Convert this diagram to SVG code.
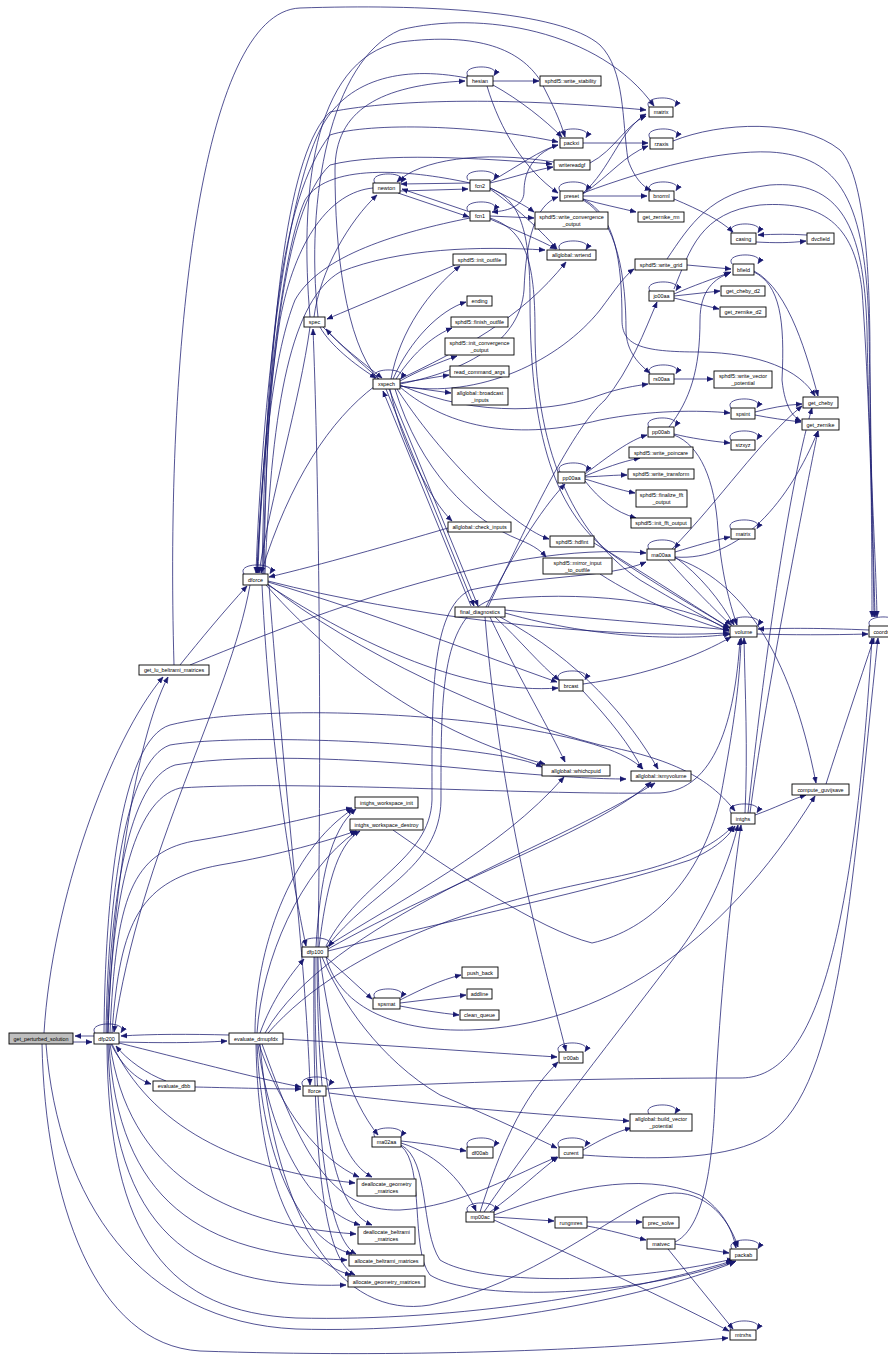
<svg xmlns="http://www.w3.org/2000/svg" width="888" height="1355" viewBox="0 0 888 1355">
<defs>
<marker id="a" markerWidth="7" markerHeight="6" refX="6" refY="3" orient="auto" markerUnits="userSpaceOnUse"><path d="M0,0.6 L6,3 L0,5.4 z" fill="#191970" stroke="#191970" stroke-width="0.5"/></marker>
</defs>
<style>
.node rect{fill:#fff;stroke:#000;stroke-width:0.9}
.node text{font-family:"Liberation Sans",Arial,sans-serif;font-size:5.4px;fill:#000;text-anchor:middle}
#edges path{fill:none;stroke:#191970;stroke-width:0.75;marker-end:url(#a)}
</style>
<rect width="888" height="1355" fill="#fff"/>
<g id="edges">
<!-- self loops -->
<path d="M468,76 C460,64 502,64 494,75.5"/>
<path d="M560,138 C552,126 594,126 586,137.5"/>
<path d="M649,107 C641,95 683,95 675,106.5"/>
<path d="M650,138 C642,126 684,126 676,137.5"/>
<path d="M375,183 C367,171 409,171 401,182.5"/>
<path d="M468,180 C460,168 502,168 494,179.5"/>
<path d="M560,191 C552,179 594,179 586,190.5"/>
<path d="M468,211 C460,199 502,199 494,210.5"/>
<path d="M650,191 C642,179 684,179 676,190.5"/>
<path d="M732,233 C724,221 766,221 758,232.5"/>
<path d="M560,250 C552,238 594,238 586,249.5"/>
<path d="M732,264 C724,252 766,252 758,263.5"/>
<path d="M650,291 C642,279 684,279 676,290.5"/>
<path d="M650,374 C642,362 684,362 676,373.5"/>
<path d="M731,408 C723,396 765,396 757,407.5"/>
<path d="M649,427 C641,415 683,415 675,426.5"/>
<path d="M731,440 C723,428 765,428 757,439.5"/>
<path d="M560,472 C552,460 594,460 586,471.5"/>
<path d="M731,529 C723,517 765,517 757,528.5"/>
<path d="M649,549 C641,537 683,537 675,548.5"/>
<path d="M732,626 C724,614 766,614 758,625.5"/>
<path d="M870,626 C862,614 904,614 896,625.5"/>
<path d="M244,574 C236,562 278,562 270,573.5"/>
<path d="M375,379 C367,367 409,367 401,378.5"/>
<path d="M559,680 C551,668 593,668 585,679.5"/>
<path d="M731,813 C723,801 765,801 757,812.5"/>
<path d="M303,947 C295,935 337,935 329,946.5"/>
<path d="M375,998 C367,986 409,986 401,997.5"/>
<path d="M95,1033 C87,1021 129,1021 121,1032.5"/>
<path d="M303,1086 C295,1074 337,1074 329,1085.5"/>
<path d="M559,1052 C551,1040 593,1040 585,1051.5"/>
<path d="M375,1137 C367,1125 409,1125 401,1136.5"/>
<path d="M468,1147 C460,1135 502,1135 494,1146.5"/>
<path d="M559,1147 C551,1135 593,1135 585,1146.5"/>
<path d="M468,1212 C460,1200 502,1200 494,1211.5"/>
<path d="M649,1114 C641,1102 683,1102 675,1113.5"/>
<path d="M732,1249 C724,1237 766,1237 758,1248.5"/>
<path d="M731,1330 C723,1318 765,1318 757,1329.5"/>
<!-- left bottom -->
<path d="M73,1042 L92,1042"/>
<path d="M94,1036 L75,1036"/>
<path d="M229,1035 C190,1034 150,1034 121,1036"/>
<path d="M119,1042 C160,1043 195,1043 227,1041"/>
<path d="M111,1044 C122,1066 136,1079 151,1084"/>
<path d="M166,1081 C147,1074 127,1060 116,1046"/>
<path d="M195,1087 C240,1088 275,1089 301,1089"/>
<path d="M119,1043 C180,1058 255,1078 301,1087"/>
<path d="M44,1033 C52,900 110,740 163,677"/>
<path d="M108,1033 C112,900 135,740 168,677"/>
<path d="M42,1044 C45,1200 95,1345 200,1351 C400,1358 600,1350 728,1338"/>
<path d="M46,1044 C58,1200 140,1322 296,1329 C460,1334 640,1300 735,1262"/>
<path d="M107,1044 C108,1240 170,1312 296,1318 C460,1322 630,1292 732,1261"/>
<path d="M112,1044 C150,1125 235,1170 355,1183"/>
<path d="M110,1044 C128,1170 220,1225 356,1234"/>
<path d="M109,1044 C118,1200 200,1255 347,1260"/>
<path d="M108,1044 C112,1230 190,1290 346,1285"/>
<!-- evaluate_dmupfdx -->
<path d="M283,1039 C380,1045 480,1052 557,1057"/>
<path d="M259,1044 C280,1110 320,1160 359,1177"/>
<path d="M258,1044 C270,1140 310,1210 360,1225"/>
<path d="M257,1044 C262,1160 300,1240 352,1254"/>
<path d="M256,1044 C258,1180 295,1260 351,1275"/>
<path d="M262,1044 C300,1150 330,1212 400,1210 C460,1207 520,1172 557,1157"/>
<path d="M260,1044 C275,1220 340,1320 430,1305 C530,1285 610,1215 660,1195 C700,1185 728,1215 738,1247"/>
<path d="M255,1033 C255,950 290,850 353,809"/>
<path d="M257,1033 C262,960 300,870 357,831"/>
<path d="M260,1033 C272,1000 290,975 304,959"/>
<path d="M268,1033 C350,940 500,900 600,880 C680,865 715,845 733,826"/>
<path d="M265,1033 C330,920 550,850 655,783"/>
<!-- dfp200 upward -->
<path d="M110,1033 C116,900 130,850 200,840 C260,830 320,815 352,808"/>
<path d="M112,1033 C120,920 140,880 220,865 C280,855 330,840 356,831"/>
<path d="M104,1033 C105,900 120,740 170,725 C250,705 420,712 520,728 C590,740 625,752 643,769"/>
<path d="M106,1033 C108,900 125,760 170,745 C230,735 380,740 460,750 C510,756 530,761 542,767"/>
<path d="M107,1033 C110,900 128,780 175,765 C250,752 380,760 480,770 C560,777 600,779 626,779"/>
<path d="M108,1033 C112,900 132,800 180,788 C300,780 520,795 660,793 C715,790 735,720 740,639"/>
<!-- dforce -->
<path d="M250,585 C230,700 140,850 114,1032"/>
<path d="M262,585 C270,750 292,880 306,946"/>
<path d="M269,585 C285,800 305,950 310,1085"/>
<path d="M268,582 C380,615 480,655 557,682"/>
<path d="M268,585 C360,645 470,695 558,688"/>
<path d="M268,581 C400,615 600,640 729,633"/>
<path d="M266,585 C350,680 450,740 545,764"/>
<path d="M268,584 C350,650 500,720 600,745 C680,760 712,782 735,811"/>
<path d="M180,665 C200,640 225,610 247,586"/>
<path d="M190,665 C300,620 500,540 646,553"/>
<path d="M448,528 C390,545 320,565 269,577"/>
<path d="M467,78 C400,65 345,80 320,130 C285,200 262,400 256,573"/>
<path d="M373,188 C330,192 295,240 280,320 C268,400 260,500 257,573"/>
<path d="M470,183 C420,172 330,160 305,200 C278,260 263,450 257,573"/>
<path d="M470,218 C400,232 320,255 295,300 C275,350 262,450 258,573"/>
<path d="M310,327 C300,400 270,500 259,573"/>
<path d="M375,386 C330,420 290,480 261,573"/>
<path d="M262,574 C266,350 280,200 330,135 C370,122 480,125 558,142"/>
<path d="M263,574 C267,380 282,210 330,165 C380,152 480,158 552,164"/>
<path d="M264,574 C268,300 290,150 330,112 C400,98 520,98 646,110"/>
<path d="M265,574 C272,400 292,300 340,272 C400,248 480,246 545,250"/>
<!-- spec / xspech -->
<path d="M318,317 C305,200 330,60 400,30 C480,10 600,30 654,106"/>
<path d="M310,317 C300,200 310,60 400,42 C480,32 520,50 540,80 C553,105 560,120 565,137"/>
<path d="M314,317 C320,270 350,220 377,195"/>
<path d="M378,379 C345,340 335,250 335,170 C335,110 380,85 465,81"/>
<path d="M318,947 C322,700 318,450 313,329"/>
<path d="M455,265 C420,280 360,305 327,319"/>
<path d="M320,327 C330,345 355,365 376,378"/>
<path d="M323,327 C340,345 362,362 382,378"/>
<path d="M379,379 C360,362 340,345 326,329"/>
<path d="M174,665 C165,350 200,12 300,8 C420,4 560,10 600,45 C625,70 622,120 628,160 C635,180 645,188 651,190"/>
<path d="M391,379 C400,330 430,290 460,266"/>
<path d="M393,379 C410,340 440,310 466,302"/>
<path d="M396,379 C415,350 435,335 452,328"/>
<path d="M400,381 C420,370 440,362 457,356"/>
<path d="M400,383 L449,375"/>
<path d="M400,386 L451,393"/>
<path d="M398,380 C460,350 520,320 566,262"/>
<path d="M400,384 C470,370 520,340 524,290 C526,240 535,205 558,197"/>
<path d="M390,389 C400,440 430,500 452,521"/>
<path d="M386,389 L474,606"/>
<path d="M389,389 L478,606"/>
<path d="M471,606 L383,391"/>
<path d="M397,389 C450,470 520,530 549,539"/>
<path d="M395,389 C420,470 470,520 520,540 C535,546 542,552 546,557"/>
<path d="M400,385 C480,420 560,410 600,395 C620,388 635,386 648,384"/>
<path d="M400,387 C450,430 520,440 600,420 C650,410 700,410 730,413"/>
<path d="M400,386 C480,400 560,360 600,310 C615,290 625,275 634,269"/>
<!-- newton / fcn -->
<path d="M400,191 L468,189"/>
<path d="M470,183 L401,184"/>
<path d="M398,193 L469,217"/>
<path d="M470,212 L402,189"/>
<path d="M554,162 C480,150 420,160 397,182"/>
<path d="M490,183 C515,177 535,170 553,167"/>
<path d="M490,182 C520,165 540,150 558,145"/>
<path d="M558,145 C530,155 524,175 524,192 C524,205 510,211 492,212"/>
<path d="M490,188 C510,198 525,205 534,212"/>
<path d="M490,189 C520,210 545,235 557,249"/>
<path d="M490,216 L534,218"/>
<path d="M490,219 C515,230 540,240 556,249"/>
<path d="M490,188 C520,200 530,230 530,300 C530,450 560,520 620,560 C680,600 710,615 729,628"/>
<path d="M490,218 C525,230 535,260 535,330 C535,460 580,540 640,580 C690,610 715,622 729,631"/>
<!-- hesian -->
<path d="M493,81 L539,81"/>
<path d="M493,85 C520,100 545,120 562,137"/>
<path d="M487,86 C500,130 525,170 558,193"/>
<!-- preset etc -->
<path d="M583,196 L647,196"/>
<path d="M583,199 C600,204 620,208 636,212"/>
<path d="M583,193 C610,170 620,130 646,114"/>
<path d="M590,163 C615,150 625,125 646,116"/>
<path d="M583,194 C610,175 625,155 648,146"/>
<path d="M583,143 L648,143"/>
<path d="M583,193 C650,168 720,150 770,152 C840,156 866,200 869,330 C871,450 872,560 872,617"/>
<path d="M673,141 C720,122 800,118 840,150 C868,178 870,300 870,360 C871,480 874,570 875,617"/>
<path d="M667,259 C690,225 710,192 770,185 C840,180 864,225 867,330 C869,450 876,560 877,617"/>
<path d="M674,289 C690,250 700,212 760,205 C830,200 855,232 862,290 C870,400 873,550 874,617"/>
<path d="M583,199 C615,215 622,260 622,320 C622,345 640,352 700,352 C760,353 800,370 815,396"/>
<path d="M583,200 C618,220 626,280 626,330 C626,352 640,365 650,373"/>
<path d="M674,199 C700,210 720,220 733,232"/>
<path d="M756,242 C775,243 790,243 806,241"/>
<path d="M807,235 C790,234 775,234 758,235"/>
<path d="M674,294 C695,285 710,280 731,272"/>
<path d="M674,296 L720,291"/>
<path d="M674,298 L719,309"/>
<path d="M687,265 L731,269"/>
<path d="M754,271 C790,290 808,360 818,396"/>
<path d="M754,272 C780,285 785,320 782,380 C785,410 795,418 801,421"/>
<path d="M669,427 C690,400 700,370 700,320 C700,290 715,278 730,273"/>
<path d="M674,379 L713,379"/>
<path d="M674,434 C690,438 710,441 730,443"/>
<path d="M674,435 C700,445 715,480 718,530 C722,580 732,610 737,625"/>
<path d="M755,412 C770,408 785,405 802,404"/>
<path d="M755,415 C770,418 785,420 801,422"/>
<path d="M675,552 C695,546 715,540 730,537"/>
<path d="M672,549 C720,500 760,440 802,406"/>
<path d="M675,557 C740,562 790,500 818,431"/>
<path d="M675,557 C700,575 720,600 734,625"/>
<path d="M668,560 C690,585 715,610 731,625"/>
<path d="M675,558 C740,580 790,650 816,783"/>
<path d="M585,474 C610,455 630,440 647,435"/>
<path d="M585,476 C605,468 620,462 640,458"/>
<path d="M585,477 C605,476 615,475 627,475"/>
<path d="M585,479 C605,485 620,490 635,493"/>
<path d="M585,481 C600,500 615,512 636,518"/>
<!-- final diagnostics -->
<path d="M486,607 C510,560 540,510 565,484"/>
<path d="M488,607 C520,540 570,430 605,400 C630,370 645,330 657,302"/>
<path d="M505,610 C600,620 680,625 729,630"/>
<path d="M505,613 C600,640 690,640 730,634"/>
<path d="M495,617 C520,640 540,665 559,680"/>
<path d="M490,617 C520,680 550,730 565,762"/>
<path d="M500,617 C580,660 630,720 658,769"/>
<path d="M485,617 C500,800 540,950 566,1051"/>
<path d="M594,543 C640,570 700,610 730,628"/>
<path d="M600,574 C640,600 690,620 729,631"/>
<path d="M583,691 C610,720 630,745 642,769"/>
<path d="M583,684 C650,675 700,655 731,637"/>
<!-- volume / coords -->
<path d="M869,630 C820,628 790,628 758,629"/>
<path d="M757,634 C790,635 830,635 868,634"/>
<path d="M826,784 C840,740 860,680 874,638"/>
<path d="M326,1089 C450,1082 600,1078 740,1078 C800,1078 850,1000 872,638"/>
<path d="M583,1155 C650,1160 720,1160 760,1140 C840,1100 850,900 878,638"/>
<path d="M755,815 C775,808 790,800 806,795"/>
<path d="M745,813 C748,750 745,690 744,638"/>
<path d="M748,813 C760,700 785,500 812,408"/>
<path d="M750,813 C765,700 800,520 818,431"/>
<!-- dfp100 -->
<path d="M326,957 L372,999"/>
<path d="M316,947 C320,880 330,830 356,809"/>
<path d="M319,947 C326,890 336,845 360,831"/>
<path d="M326,947 C400,900 500,850 564,777"/>
<path d="M328,949 C450,880 600,830 651,782"/>
<path d="M328,951 C450,920 600,890 690,860 C712,850 726,840 735,826"/>
<path d="M326,946 C360,880 430,860 432,800 C432,700 430,610 470,590 C540,575 610,578 646,562"/>
<path d="M327,947 C370,890 440,870 441,800 C441,700 440,620 490,600 C580,590 680,600 729,630"/>
<path d="M326,957 C340,1010 400,1032 470,1030 C600,1025 720,950 815,796"/>
<path d="M320,957 C330,1040 350,1100 378,1135"/>
<path d="M322,957 C340,1000 380,1060 440,1095 C500,1120 540,1140 557,1148"/>
<path d="M318,957 C320,1100 340,1160 372,1177"/>
<path d="M317,957 C318,1130 335,1210 372,1225"/>
<path d="M315,957 C314,1150 330,1240 356,1254"/>
<path d="M314,957 C312,1170 325,1260 355,1275"/>
<path d="M393,830 C450,870 540,930 592,943 C650,930 700,880 720,800 C735,720 740,680 741,638"/>
<!-- spsmat -->
<path d="M400,1000 C420,990 440,980 461,975"/>
<path d="M400,1003 L466,995"/>
<path d="M400,1006 C420,1010 440,1013 459,1015"/>
<!-- ma02aa / mp00ac -->
<path d="M401,1141 C430,1144 445,1147 466,1151"/>
<path d="M401,1143 C440,1155 465,1185 476,1211"/>
<path d="M401,1145 C430,1160 420,1230 440,1260 C480,1285 620,1285 733,1259"/>
<path d="M401,1146 C425,1165 410,1250 430,1275 C470,1300 620,1300 736,1261"/>
<path d="M494,1217 L554,1221"/>
<path d="M480,1212 C500,1150 520,1100 558,1062"/>
<path d="M490,1212 C520,1190 540,1170 558,1157"/>
<path d="M494,1220 C560,1250 650,1290 729,1331"/>
<path d="M484,1212 C540,1130 620,1030 680,950 C710,910 730,860 738,825"/>
<path d="M494,1215 C560,1190 640,1170 700,1195 C722,1210 732,1228 736,1248"/>
<path d="M587,1222 L642,1222"/>
<path d="M587,1226 C610,1230 630,1236 646,1240"/>
<path d="M675,1244 L729,1253"/>
<path d="M668,1249 L733,1329"/>
<path d="M675,1242 C700,1230 712,1180 715,1100 C720,1000 730,900 741,825"/>
<path d="M583,1150 C600,1140 615,1132 631,1128"/>
<path d="M329,1093 C420,1105 550,1115 629,1121"/>
</g>
<g id="n_gps" class="node"><rect x="9" y="1033" width="64" height="11" style="fill:#bfbfbf"/><text x="41" y="1040.5">get_perturbed_solution</text></g>
<g id="n_dfp200" class="node"><rect x="94" y="1033" width="25" height="11"/><text x="106.5" y="1040.5">dfp200</text></g>
<g id="n_evdmu" class="node"><rect x="229" y="1033" width="54" height="11"/><text x="256" y="1040.5">evaluate_dmupfdx</text></g>
<g id="n_evdbb" class="node"><rect x="153" y="1081" width="42" height="10"/><text x="174" y="1088">evaluate_dbb</text></g>
<g id="n_getlu" class="node"><rect x="139" y="665" width="70" height="10"/><text x="174" y="672">get_lu_beltrami_matrices</text></g>
<g id="n_dforce" class="node"><rect x="243" y="574" width="25" height="11"/><text x="255.5" y="581.5">dforce</text></g>
<g id="n_spec" class="node"><rect x="304" y="317" width="21" height="10"/><text x="314.5" y="324">spec</text></g>
<g id="n_dfp100" class="node"><rect x="302" y="947" width="26" height="10"/><text x="315" y="954">dfp100</text></g>
<g id="n_lforce" class="node"><rect x="303" y="1086" width="23" height="10"/><text x="314.5" y="1093">lforce</text></g>
<g id="n_newton" class="node"><rect x="373" y="183" width="27" height="10"/><text x="386.5" y="190">newton</text></g>
<g id="n_xspech" class="node"><rect x="373" y="379" width="27" height="10"/><text x="386.5" y="386">xspech</text></g>
<g id="n_spsmat" class="node"><rect x="373" y="998" width="27" height="11"/><text x="386.5" y="1005.5">spsmat</text></g>
<g id="n_ma02aa" class="node"><rect x="372" y="1137" width="29" height="10"/><text x="386.5" y="1144">ma02aa</text></g>
<g id="n_iwi" class="node"><rect x="355" y="797" width="63" height="11"/><text x="386.5" y="804.5">intghs_workspace_init</text></g>
<g id="n_iwd" class="node"><rect x="350" y="819" width="73" height="11"/><text x="386.5" y="826.5">intghs_workspace_destroy</text></g>
<g id="n_dgm" class="node"><rect x="357" y="1179" width="59" height="17"/><text x="386.5" y="1186">deallocate_geometry</text><text x="386.5" y="1193">_matrices</text></g>
<g id="n_dbm" class="node"><rect x="358" y="1227" width="57" height="17"/><text x="386.5" y="1234">deallocate_beltrami</text><text x="386.5" y="1241">_matrices</text></g>
<g id="n_abm" class="node"><rect x="349" y="1255" width="75" height="11"/><text x="386.5" y="1262.5">allocate_beltrami_matrices</text></g>
<g id="n_agm" class="node"><rect x="348" y="1276" width="77" height="11"/><text x="386.5" y="1283.5">allocate_geometry_matrices</text></g>
<g id="n_hesian" class="node"><rect x="467" y="76" width="26" height="10"/><text x="480" y="83">hesian</text></g>
<g id="n_fcn2" class="node"><rect x="470" y="180" width="20" height="11"/><text x="480" y="187.5">fcn2</text></g>
<g id="n_fcn1" class="node"><rect x="470" y="211" width="20" height="10"/><text x="480" y="218">fcn1</text></g>
<g id="n_initout" class="node"><rect x="453" y="254" width="53" height="11"/><text x="479.5" y="261.5">sphdf5::init_outfile</text></g>
<g id="n_ending" class="node"><rect x="467" y="296" width="25" height="10"/><text x="479.5" y="303">ending</text></g>
<g id="n_finout" class="node"><rect x="451" y="317" width="57" height="10"/><text x="479.5" y="324">sphdf5::finish_outfile</text></g>
<g id="n_initconv" class="node"><rect x="445" y="338" width="69" height="17"/><text x="479.5" y="345">sphdf5::init_convergence</text><text x="479.5" y="352">_output</text></g>
<g id="n_rca" class="node"><rect x="450" y="366" width="59" height="11"/><text x="479.5" y="373.5">read_command_args</text></g>
<g id="n_bcast" class="node"><rect x="452" y="388" width="56" height="17"/><text x="480" y="395">allglobal::broadcast</text><text x="480" y="402">_inputs</text></g>
<g id="n_check" class="node"><rect x="448" y="522" width="63" height="10"/><text x="479.5" y="529">allglobal::check_inputs</text></g>
<g id="n_final" class="node"><rect x="455" y="607" width="50" height="10"/><text x="480" y="614">final_diagnostics</text></g>
<g id="n_pushback" class="node"><rect x="462" y="967" width="36" height="11"/><text x="480" y="974.5">push_back</text></g>
<g id="n_addline" class="node"><rect x="467" y="989" width="25" height="10"/><text x="479.5" y="996">addline</text></g>
<g id="n_cleanq" class="node"><rect x="460" y="1010" width="39" height="10"/><text x="479.5" y="1017">clean_queue</text></g>
<g id="n_df00ab" class="node"><rect x="467" y="1147" width="26" height="11"/><text x="480" y="1154.5">df00ab</text></g>
<g id="n_mp00ac" class="node"><rect x="466" y="1212" width="28" height="10"/><text x="480" y="1219">mp00ac</text></g>
<g id="n_wstab" class="node"><rect x="540" y="76" width="61" height="10"/><text x="570.5" y="83">sphdf5::write_stability</text></g>
<g id="n_packxi" class="node"><rect x="560" y="138" width="23" height="10"/><text x="571.5" y="145">packxi</text></g>
<g id="n_wrgf" class="node"><rect x="554" y="160" width="36" height="10"/><text x="572" y="167">writereadgf</text></g>
<g id="n_preset" class="node"><rect x="560" y="191" width="23" height="10"/><text x="571.5" y="198">preset</text></g>
<g id="n_wconv" class="node"><rect x="535" y="212" width="73" height="17"/><text x="571.5" y="219">sphdf5::write_convergence</text><text x="571.5" y="226">_output</text></g>
<g id="n_wrtend" class="node"><rect x="547" y="250" width="49" height="10"/><text x="571.5" y="257">allglobal::wrtend</text></g>
<g id="n_pp00aa" class="node"><rect x="558" y="472" width="27" height="11"/><text x="571.5" y="479.5">pp00aa</text></g>
<g id="n_hdfint" class="node"><rect x="550" y="536" width="44" height="11"/><text x="572" y="543.5">sphdf5::hdfint</text></g>
<g id="n_mirror" class="node"><rect x="543" y="558" width="69" height="16"/><text x="577.5" y="564.5">sphdf5::mirror_input</text><text x="577.5" y="571.5">_to_outfile</text></g>
<g id="n_brcast" class="node"><rect x="559" y="680" width="24" height="11"/><text x="571" y="687.5">brcast</text></g>
<g id="n_whichcpu" class="node"><rect x="542" y="765" width="68" height="11"/><text x="576" y="772.5">allglobal::whichcpuid</text></g>
<g id="n_tr00ab" class="node"><rect x="559" y="1052" width="24" height="11"/><text x="571" y="1059.5">tr00ab</text></g>
<g id="n_curent" class="node"><rect x="559" y="1147" width="24" height="11"/><text x="571" y="1154.5">curent</text></g>
<g id="n_rungmres" class="node"><rect x="555" y="1217" width="32" height="11"/><text x="571" y="1224.5">rungmres</text></g>
<g id="n_matrix" class="node"><rect x="649" y="107" width="24" height="10"/><text x="661" y="114">matrix</text></g>
<g id="n_rzaxis" class="node"><rect x="650" y="138" width="23" height="11"/><text x="661.5" y="145.5">rzaxis</text></g>
<g id="n_bnorml" class="node"><rect x="649" y="191" width="25" height="10"/><text x="661.5" y="198">bnorml</text></g>
<g id="n_gzrm" class="node"><rect x="638" y="212" width="46" height="10"/><text x="661" y="219">get_zernike_rm</text></g>
<g id="n_wgrid" class="node"><rect x="635" y="259" width="52" height="11"/><text x="661" y="266.5">sphdf5::write_grid</text></g>
<g id="n_jo00aa" class="node"><rect x="649" y="291" width="25" height="10"/><text x="661.5" y="298">jo00aa</text></g>
<g id="n_rs00aa" class="node"><rect x="649" y="374" width="25" height="10"/><text x="661.5" y="381">rs00aa</text></g>
<g id="n_pp00ab" class="node"><rect x="648" y="427" width="26" height="10"/><text x="661" y="434">pp00ab</text></g>
<g id="n_wpoinc" class="node"><rect x="629" y="447" width="64" height="11"/><text x="661" y="454.5">sphdf5::write_poincare</text></g>
<g id="n_wtrans" class="node"><rect x="628" y="469" width="66" height="10"/><text x="661" y="476">sphdf5::write_transform</text></g>
<g id="n_finfft" class="node"><rect x="636" y="490" width="51" height="17"/><text x="661.5" y="497">sphdf5::finalize_fft</text><text x="661.5" y="504">_output</text></g>
<g id="n_initfft" class="node"><rect x="631" y="518" width="60" height="10"/><text x="661" y="525">sphdf5::init_fft_output</text></g>
<g id="n_ma00aa" class="node"><rect x="647" y="549" width="28" height="11"/><text x="661" y="556.5">ma00aa</text></g>
<g id="n_ismyvol" class="node"><rect x="631" y="771" width="60" height="10"/><text x="661" y="778">allglobal::ismyvolume</text></g>
<g id="n_bvp" class="node"><rect x="630" y="1114" width="62" height="17"/><text x="661" y="1121">allglobal::build_vector</text><text x="661" y="1128">_potential</text></g>
<g id="n_prec" class="node"><rect x="643" y="1217" width="36" height="11"/><text x="661" y="1224.5">prec_solve</text></g>
<g id="n_matvec" class="node"><rect x="647" y="1239" width="28" height="10"/><text x="661" y="1246">matvec</text></g>
<g id="n_casing" class="node"><rect x="731" y="233" width="25" height="11"/><text x="743.5" y="240.5">casing</text></g>
<g id="n_dvcfield" class="node"><rect x="807" y="233" width="27" height="11"/><text x="820.5" y="240.5">dvcfield</text></g>
<g id="n_bfield" class="node"><rect x="733" y="264" width="21" height="11"/><text x="743.5" y="271.5">bfield</text></g>
<g id="n_gcd2" class="node"><rect x="721" y="286" width="44" height="10"/><text x="743" y="293">get_cheby_d2</text></g>
<g id="n_gzd2" class="node"><rect x="720" y="307" width="46" height="10"/><text x="743" y="314">get_zernike_d2</text></g>
<g id="n_wvp" class="node"><rect x="714" y="371" width="58" height="17"/><text x="743" y="378">sphdf5::write_vector</text><text x="743" y="385">_potential</text></g>
<g id="n_spsint" class="node"><rect x="731" y="408" width="24" height="11"/><text x="743" y="415.5">spsint</text></g>
<g id="n_stzxyz" class="node"><rect x="731" y="440" width="24" height="10"/><text x="743" y="447">stzxyz</text></g>
<g id="n_matrix2" class="node"><rect x="731" y="529" width="24" height="10"/><text x="743" y="536">matrix</text></g>
<g id="n_volume" class="node"><rect x="730" y="626" width="27" height="11"/><text x="743.5" y="633.5">volume</text></g>
<g id="n_intghs" class="node"><rect x="731" y="813" width="24" height="11"/><text x="743" y="820.5">intghs</text></g>
<g id="n_packab" class="node"><rect x="730" y="1249" width="27" height="11"/><text x="743.5" y="1256.5">packab</text></g>
<g id="n_mtrxhs" class="node"><rect x="730" y="1330" width="26" height="10"/><text x="743" y="1337">mtrxhs</text></g>
<g id="n_gcheby" class="node"><rect x="803" y="397" width="35" height="11"/><text x="820.5" y="404.5">get_cheby</text></g>
<g id="n_gzern" class="node"><rect x="802" y="419" width="37" height="11"/><text x="820.5" y="426.5">get_zernike</text></g>
<g id="n_cgs" class="node"><rect x="792" y="784" width="57" height="11"/><text x="820.5" y="791.5">compute_guvijsave</text></g>
<g id="n_coords" class="node"><rect x="869" y="626" width="25" height="11"/><text x="881.5" y="633.5">coords</text></g>
</svg>
